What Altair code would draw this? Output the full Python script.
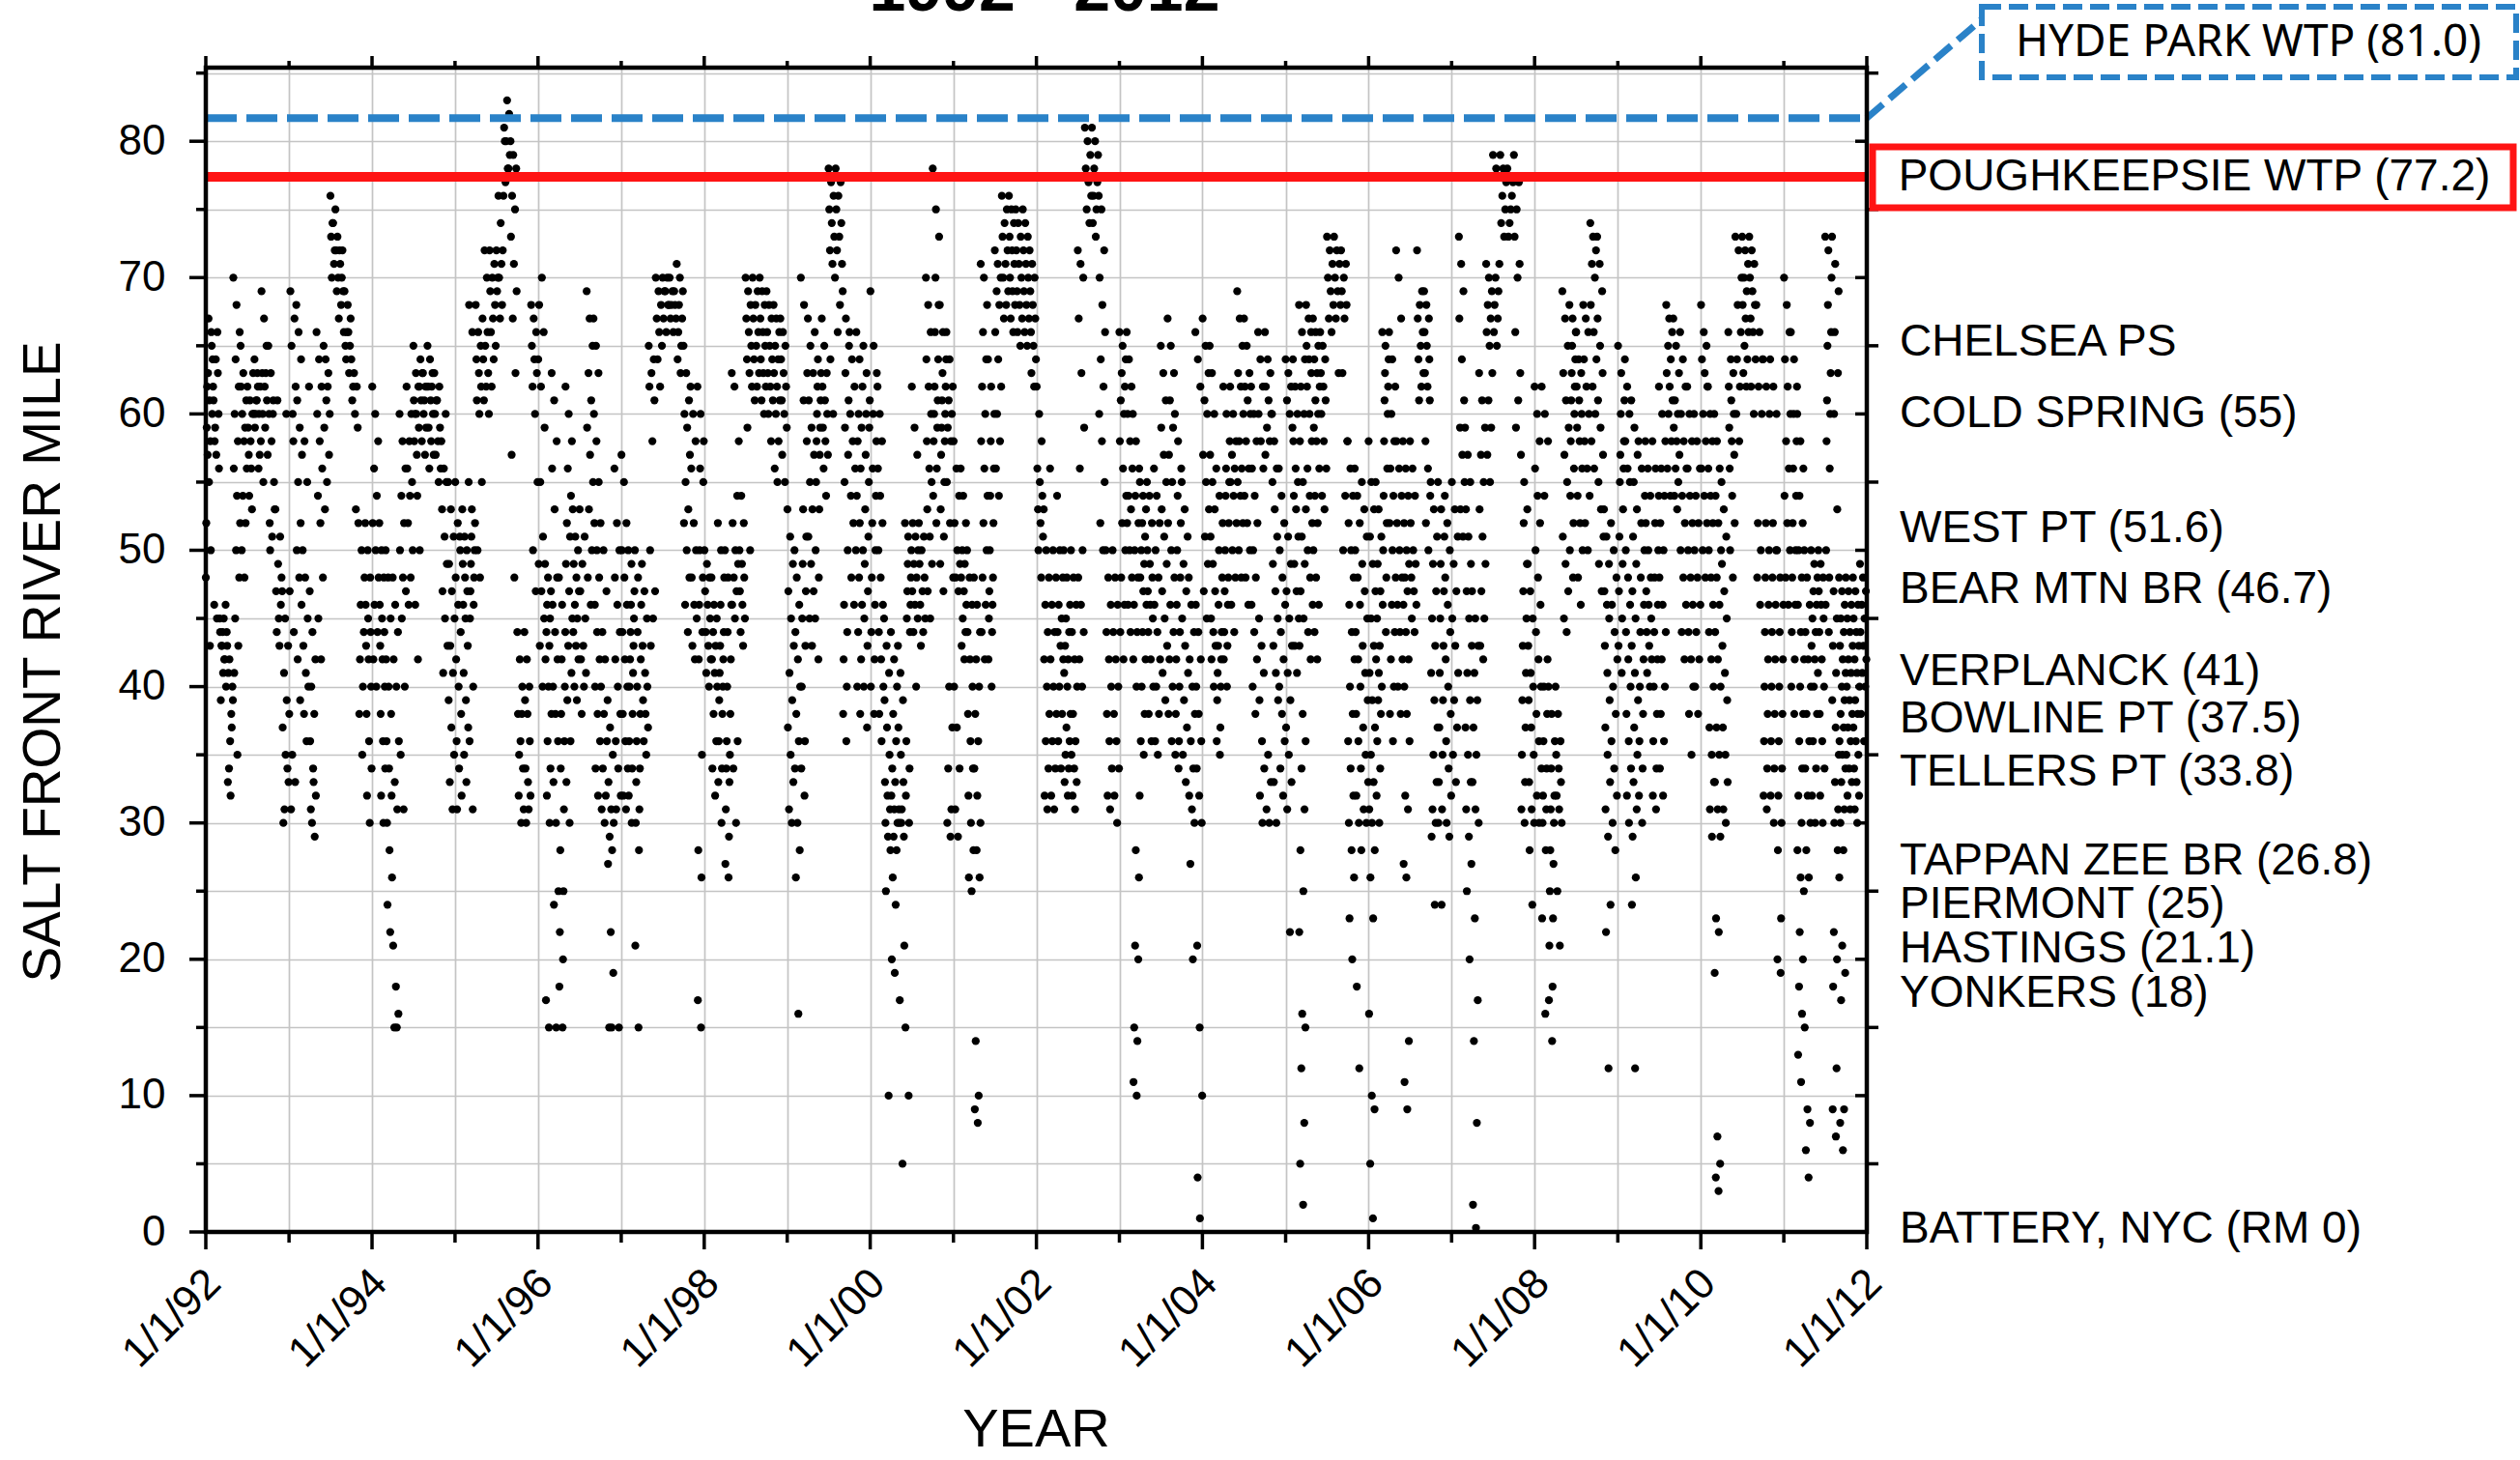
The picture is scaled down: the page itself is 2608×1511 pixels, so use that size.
import math
import calendar
import altair as alt
import pandas as pd

# ---------------- data: salt front river mile, values read per month ----------------
sf_1992 = [
    "48 55 60 63 66 62 58 52 61 64 67 65 57 50 59 43",
    "62 64 60 58 66 61 57 56 59 63 46 45",
    "45 44 46 43 42 44 41 40 43 42 39 45",
    "44 42 40 41 38 43 36 39 34 37 33 32",
    "70 68 66 64 62 60 58 56 54 52 50 48 45 43 41 35",
    "65 63 61 60 59 62 58 56 54 52 50 48",
    "62 61 60 59 58 63 57 56 60 54 53",
    "64 63 62 61 60 59 62 58 61 57 60 56",
    "69 67 65 63 62 61 60 59 57 55 63",
    "65 63 61 60 58 55 52 51 53 50 60",
    "53 51 49 47 46 45 44 48 43 61",
    "47 45 43 41 39 37 35 33 31 34 30 60",
]
sf_1993 = [
    "38 35 33 31 44 47 60 62 65 67 69 58",
    "68 66 64 61 59 57 55 52 50 48 46 42 39",
    "50 48 45 43 41 40 38 36 62 58 55",
    "47 44 42 40 38 36 34 32 30 29 31 33",
    "66 64 62 60 58 56 54 52 48 45 42",
    "65 63 61 59 57 55 53 60 62 64",
    "76 75 74 73 72 71 70 69 72 74",
    "73 72 71 70 69 68 67 66 70 72",
    "69 68 67 66 65 64 63 65 66",
    "64 63 62 61 60 59 62 53",
    "52 50 48 46 44 42 40 38 35",
    "52 50 48 46 45 44 43 42 40 38 36 34 32 30",
]
sf_1994 = [
    "62 60 58 56 54 52 50 48 46 44 42 40",
    "52 50 48 46 45 44 43 42 40 38 36 34 32 30",
    "50 48 45 42 40 38 36 34 32 30 28 26 24 22",
    "48 46 44 42 40 36 33 31 21 18 16 15 15",
    "60 58 56 54 52 50 48 47 45 40 35 31",
    "62 60 58 56 55 54 52 50 48 46",
    "65 63 62 61 60 59 58 57 62 60 54 50 46 42",
    "64 63 62 61 60 59 58 61 62 63 57",
    "65 64 63 62 61 60 59 58 57 56 62",
    "63 62 61 60 59 58 57 56 55 61",
    "58 56 55 53 51 49 47 45 43 41 60",
    "55 53 51 49 47 45 43 41 39 37 35 33 31",
]
sf_1995 = [
    "55 52 50 48 46 44 42 40 38 36 34 32 31 51",
    "53 51 50 49 48 47 46 45 43 41 39 37 35 33",
    "55 53 52 51 50 49 48 47 46 45 40 36 31 68 66",
    "68 66 65 64 63 62 61 60 55 50 48",
    "67 66 65 64 63 62 61 60 70 72",
    "72 71 70 69 68 67 66 65 64 62",
    "72 71 70 69 68 67 70 72 74 76",
    "76 78 80 81 82 83 80 79 78 77",
    "80 79 78 76 75 73 71 69 67 63 57 48",
    "44 42 40 38 36 34 32 30 31 35 38",
    "44 42 40 39 38 36 34 33 32 30 31",
    "68 67 66 65 64 63 62 60 55 50 47",
]
sf_1996 = [
    "64 62 66 68 70 59 55 51 49 47 45 43 40",
    "49 48 47 46 45 44 43 42 40 38 36 34 32 30 17 15",
    "63 61 58 56 53 48 46 44 42 40 38 36 33 30 25 24 15",
    "48 46 44 42 40 38 36 34 31 28 25 22 20 18 15",
    "62 60 58 56 54 52 51 49 47 45 43 41 39 36 33 30",
    "53 51 50 49 48 47 46 45 44 43 42 40 39",
    "53 51 49 47 45 43 42 41 40 38",
    "69 67 65 63 61 59 57 55 53 50 48 46",
    "67 65 63 60 58 55 52 50 48 46 44 42 40 38 36 34 32",
    "52 50 47 44 42 40 38 36 34 32 31 30",
    "39 37 35 33 31 30 29 28 27 22 19 15 15",
    "56 52 50 48 46 44 42 40 38 36 34 32 31 15",
]
sf_1997 = [
    "57 55 52 50 48 46 44 42 40 38 36 34 32 31",
    "50 49 47 46 45 44 43 42 41 40 38 36 34 32 30",
    "50 48 46 44 42 40 38 36 34 33 31 30 28 21 15",
    "49 47 45 43 41 40 39 38 37 36 35",
    "65 64 63 62 61 58 50 47 45 43",
    "70 69 68 67 66 65 64 62",
    "70 69 68 67 66 68 69 70",
    "70 69 68 67 66 67 68 69",
    "71 70 69 68 67 66 65 64 63",
    "65 63 61 60 59 57 55 53 52 50 48 46 44",
    "62 60 58 56 52 50 48 46 45 43 42",
    "62 60 58 56 55 50 48 46 44 42 35 28 26 17 15",
]
sf_1998 = [
    "50 49 48 47 46 45 44 43 42 41 40",
    "48 46 45 44 43 42 41 40 38 36 34 32",
    "52 50 48 46 44 43 42 41 40 39 38 36 34 33 30",
    "50 48 46 44 42 40 38 36 35 34 33 31 29 27 26",
    "63 62 54 52 50 49 48 47 46 45 36 34 30",
    "58 54 52 50 49 48 47 46 45 44 43",
    "70 69 68 67 66 65 64 63 62 59 50",
    "70 69 68 67 66 65 64 63 62 61",
    "70 69 68 67 66 65 64 63 62 61 60",
    "69 68 67 66 65 64 63 62 61 60 58",
    "68 67 66 65 64 63 62 61 60 58 56 55",
    "67 66 65 64 63 62 61 60 59 57 55",
]
sf_1999 = [
    "53 51 49 47 45 43 41 39 37 35 33 31 30",
    "50 48 46 44 42 40 38 36 34 30 28 26 16",
    "70 68 63 61 58 53 51 49 47 45 43 40 36 34 32",
    "67 65 63 61 59 57 55 53 51 49 47 45 43",
    "66 64 63 62 61 60 59 58 57 55 53 50 48 45 42",
    "67 65 63 62 61 60 59 58 57 56 54",
    "78 77 76 75 74 73 72 71 70 64 60",
    "78 77 76 75 74 73 72 71 68 66",
    "69 67 65 63 61 59 57 55 50 46 44 42 40 38 36",
    "66 64 62 60 58 56 54 52 50 48 46",
    "66 64 62 60 59 58 56 54 52 50 48 46 44 42 40 38",
    "65 63 61 60 59 57 55 53 51 49 47 45 43 40 37",
]
sf_2000 = [
    "69 65 63 60 58 56 54 52 50 48 46 44 42 40 38",
    "62 60 58 56 54 52 50 48 46 44 42 40 38 36",
    "45 43 41 39 37 35 33 32 31 30 29 28 25 10",
    "44 42 40 38 36 34 33 32 31 30 29 28 26 24 20 19",
    "43 41 39 37 35 33 31 30 29 30 31 21 17 5",
    "52 51 50 49 48 47 46 45 44 36 34 32 30 15 10",
    "62 59 57 52 51 50 49 48 47 46 45 44 40",
    "52 51 50 49 48 47 46 45 44 43",
    "70 68 66 64 62 60 58 56 55 53 51 49 47 45",
    "78 75 73 70 68 66 64 62 61 60 59 58 56 54 52",
    "68 66 64 63 62 61 60 59 58 57 55 53 51 49 47",
    "66 64 62 61 60 59 58 55 52 48 40 37 34 31 30 29",
]
sf_2001 = [
    "58 56 54 52 50 49 48 47 40 37 34 31 29",
    "56 54 52 50 49 48 47 46 45 44 43 42",
    "50 48 46 44 42 40 38 36 34 32 30 28 26 25",
    "48 46 44 42 40 38 36 34 32 30 28 26 14 10 9 8",
    "71 70 68 66 64 62 60 58 56 54 52 50 48 46 44 42",
    "64 62 60 58 56 54 52 50 48 47 46 45 44 42 40",
    "72 71 70 69 68 66 64 62 60 58 56 54",
    "76 75 74 73 72 71 70 69 68 67",
    "76 75 74 73 72 71 70 69 68 67 66",
    "75 74 73 72 71 70 69 68 67 66 65",
    "75 74 73 72 71 70 69 68 67 66 65",
    "72 71 70 69 68 67 66 65 64 63 62",
]
sf_2002 = [
    "62 60 58 56 55 54 53 52 51 50 48",
    "53 50 48 46 44 42 40 38 36 34 32 31",
    "56 50 48 46 44 42 40 38 36 34 32 31",
    "54 50 48 46 45 44 43 42 40 38 36 34",
    "50 48 46 45 44 43 42 41 40 38 37 36 35 34 33 32",
    "50 48 46 44 42 40 38 36 35 34 33 32 31",
    "72 71 70 67 63 59 56 50 48 46 44 42 40",
    "81 80 79 78 77 76 75 74",
    "81 80 79 78 77 76 75 74 73",
    "76 75 72 70 68 66 64 62 60 58 55 52 50",
    "50 48 46 44 42 40 38 36 34 32 31",
    "50 48 46 44 42 40 38 36 34 32 30",
]
sf_2003 = [
    "66 65 64 63 62 61 60 58 56 54 52 50 48 46 44 42",
    "66 64 62 60 58 56 54 53 52 50 48 46 44",
    "60 58 56 54 52 50 48 46 44 42 40 32 28 26 21 20 15 14 11 10",
    "55 54 53 52 51 50 49 48 47 46 44 42 40 38 36 35",
    "55 54 52 50 49 48 47 46 45 44 42 40 38 36",
    "56 54 52 50 48 46 44 42 40 38 36 35",
    "65 63 61 59 57 55 53 51 49 47 45 43 41 39",
    "67 65 63 61 59 57 55 52 50 48 46 44 42 40 38 36",
    "60 58 56 54 52 50 48 46 44 42 40 38 36 35 34",
    "55 53 51 49 47 45 43 41 39 37 35 33",
    "48 46 44 42 40 38 36 34 32 31 30 27 20",
    "66 64 62 46 44 42 40 38 36 34 32 30 21 15 10 4 1",
]
sf_2004 = [
    "67 65 63 61 60 57 55 53 51 49 47 45",
    "65 63 60 57 55 53 51 49 47 45 44 43 42 40",
    "56 54 52 50 48 46 44 43 42 41 40 39 37 36 35",
    "62 60 58 56 55 54 52 50 48 47 46 44 43 42 40",
    "62 60 58 57 56 55 54 52 50 48 46 44",
    "69 67 65 63 62 60 58 56 55 54 52 50 48",
    "67 65 63 62 61 60 58 56 54 52 50 48 46",
    "62 60 58 56 54 52 50 48 46 44 42 40 38",
    "66 64 62 60 58 56 45 43 41 39 36 34 32 30",
    "66 64 63 62 61 60 59 58 57 35 33 31 30",
    "60 58 56 55 53 51 49 47 45 43 41 39 33 30",
    "56 54 52 50 48 46 44 42 40 38 36 34 32",
]
sf_2005 = [
    "64 63 62 61 60 59 51 49 47 45 43 41 39 37 35 33 31 22",
    "64 62 60 58 56 55 54 53 51 49 47 45 43 41",
    "68 66 64 62 60 58 55 53 51 49 47 45 43 38 36 34 31 28 25 22 16 15 12 8 5 2",
    "68 67 66 65 64 63 62 60 58 56 54 52 50 48 46 44 42",
    "67 66 65 64 63 62 61 60 59 58 56 54 52 50 48 46 44 42",
    "66 65 64 63 62 61 60 58 56 54 53",
    "73 72 71 70 69 68 67 66",
    "73 72 71 70 69 68 67 63",
    "72 71 70 69 68 67 63 58 54 50",
    "58 56 54 52 50 48 46 44 42 40 38 36 34 32 30 28 26 23 20",
    "56 54 52 50 48 46 44 42 40 38 36 34 32 30 28 18 12",
    "55 53 51 49 47 45 43 41 39 37 35 33 31 30",
]
sf_2006 = [
    "58 55 53 51 49 47 45 43 41 39 37 35 33 31 30 28 26 23 16 10 9 5 1",
    "55 53 51 49 47 45 43 42 41 40 39 38 36 34 32 30",
    "66 65 64 63 62 61 60 58 56 54 52 50 48 46 44",
    "66 64 62 60 58 56 54 52 50 48 46 44 42 40 38 36",
    "72 70 67 58 56 54 52 50 48 46 44 42 40 38",
    "58 56 54 52 50 49 48 47 46 44 42 40 38 36 32 31 27 26 14 11 9",
    "58 56 54 52 50 49 48 47 46 45 44",
    "72 69 68 67 66 65 64 63 62 61",
    "69 68 67 66 65 64 63 62 61 58 56 54 52 50",
    "55 53 51 49 47 45 43 41 39 37 35 33 31 30 29 24",
    "55 53 51 49 47 45 43 41 39 37 35 33 31 30 24",
    "54 52 50 48 46 44 42 40 38 36 34 32 30 29",
]
sf_2007 = [
    "55 53 51 49 47 45 43 41 39 37 35 33",
    "73 71 69 67 64 61 59 57 55 53 51",
    "59 57 55 53 51 49 47 45 43 41 39 37 35 33 31 29 27 25 20",
    "47 45 43 41 39 37 35 33 31 30 23 17 14 8 2 0.3",
    "63 61 59 57 55 53 51 49 47 45 43 42",
    "71 70 69 68 67 66 65 63 61 59 57 55",
    "79 78 71 70 69 68 67 66 65",
    "79 78 77 76 75 74 73",
    "78 77 76 75 74 73",
    "79 77 75 73 71 70 66 63 61 59",
    "57 55 53 52 49 47 45 43 41 39 37 35 33 31 30",
    "49 47 45 43 41 40 39 37 35 33 31 30 28 24",
]
sf_2008 = [
    "62 60 58 56 54 52 50 48 46 44 42 40 38 36 34 32 30",
    "62 60 58 54 42 40 38 36 34 32 31 30 28 23 16",
    "40 38 36 34 32 31 30 28 27 25 23 21 18 17 14",
    "40 38 36 35 34 33 32 31 30 25 21",
    "69 67 65 63 61 59 57 55 51 49 47 45 44",
    "68 67 66 65 64 63 62 61 60 58 56 54 52 50 48",
    "66 64 63 62 61 60 59 58 56 54 52 50 48 46",
    "68 67 66 64 62 60 58 56 54 52 50",
    "74 73 72 71 70 68 66 64 62 60 58 56",
    "73 71 69 67 65 63 61 59 57 55 53 51 49 47",
    "53 51 49 47 46 45 43 41 39 37 35 33 31 29 24 22 12",
    "52 50 48 46 44 42 40 38 36 34 32 30 28",
]
sf_2009 = [
    "65 63 61 60 58 57 56 55 53 51 49 47 45 43 41",
    "64 62 60 58 56 55 50 48 46 44 42 40 38 36 34 32 30",
    "61 59 57 55 53 51 49 47 45 43 41 39 37 35 33 31 29 26 24 12",
    "58 56 54 52 50 48 46 44 42 40 38 36 34 32 30",
    "58 56 54 52 50 48 47 46 45 44 43 42 41 40",
    "58 56 54 52 50 48 46 44 42 40 38 36 34 32 31",
    "62 60 58 56 54 52 50 48 46 44 42 40 38 36 34 32",
    "68 67 66 65 64 63 62 61 60 58 56 54",
    "67 65 63 61 60 59 58 57 56 55 54 53",
    "66 64 62 60 58 56 54 52 50 48 46 44 42",
    "62 60 58 56 54 52 50 48 46 44 42 40 38 35",
    "60 58 56 54 52 50 48 46 44 42 40 38",
]
sf_2010 = [
    "68 66 65 64 63 62 60 58 56 54 52 50 48",
    "62 60 58 56 54 52 50 48 46 44 42 40 37 35 33 31 29",
    "60 58 56 54 52 50 48 46 44 42 40 37 35 33 31 29 23 22 19 7 5 4 3",
    "55 53 51 49 47 45 43 41 39 37 35 33 31 30",
    "66 64 63 62 61 60 59 58 57 56 54 52 50 48",
    "73 72 70 68 66 64 62 60 58",
    "73 72 71 70 69 68 67 66 65 64 63 62",
    "73 72 71 70 69 68 67 66 64 62 60",
    "68 66 64 62 60 52 50 48 46",
    "64 62 60 52 50 48 46 44 42 40 38 36 34 32 31",
    "64 62 60 52 50 48 46 44 42 40 38 36 34 32 30",
    "50 48 46 44 42 40 38 36 34 32 30 28 23 20 19",
]
sf_2011 = [
    "70 68 66 64 62 60 58 56 54 52 50 48 46",
    "66 64 62 60 58 56 54 52 50 48 46 44 42 40 38",
    "60 58 56 54 52 50 48 46 44 42 40 38 36 34 32 30 28 26 25 22 20 18 16 13 11",
    "50 48 46 44 42 40 38 36 34 32 30 28 26 15 9 8 6 4",
    "50 49 48 47 46 45 44 43 42 41 40 38 36 34 32 30",
    "50 49 48 47 46 45 44 42 40 38 36 34 32 30",
    "73 72 70 68 66 65 63 61 60 58 56 50 48 46 44",
    "73 71 69 66 63 60 53 47 45 43 41 39 37 35 33 31 30 28 22 20 18 12 9 7",
    "48 47 46 45 44 43 42 41 40 39 38 37 36 35 34 33 31 30 28 26 21 19 17 9 8 6",
    "48 47 46 45 44 43 42 41 40 39 38 37 36 35 34 33 32 31",
    "48 47 46 45 44 43 42 41 40 39 38 37 36 35 34 33 32 31 30",
    "49 48 47 46 45 44 43 42 41 40 38 36",
]

years = list(range(1992, 2012))
series = [sf_1992, sf_1993, sf_1994, sf_1995, sf_1996, sf_1997, sf_1998, sf_1999,
          sf_2000, sf_2001, sf_2002, sf_2003, sf_2004, sf_2005, sf_2006, sf_2007,
          sf_2008, sf_2009, sf_2010, sf_2011]

# reference lines (drawn position) and their labels
hyde_mile = 81.7
hyde_label = "HYDE PARK WTP (81.0)"
pough_mile = 77.4
pough_label = "POUGHKEEPSIE WTP (77.2)"

# river landmarks on the right
site_labels = ["CHELSEA PS", "COLD SPRING (55)", "WEST PT (51.6)", "BEAR MTN BR (46.7)",
               "VERPLANCK (41)", "BOWLINE PT (37.5)", "TELLERS PT (33.8)",
               "TAPPAN ZEE BR (26.8)", "PIERMONT (25)", "HASTINGS (21.1)",
               "YONKERS (18)", "BATTERY, NYC (RM 0)"]
site_label_mile = [65.3, 60.0, 51.6, 47.1, 41.1, 37.6, 33.7, 27.2, 24.0, 20.8, 17.5, 0.2]

title_text = "1992 - 2012"
y_title = "SALT FRONT RIVER MILE"
x_title = "YEAR"

y_major = [0, 10, 20, 30, 40, 50, 60, 70, 80]
y_minor = [5, 15, 25, 35, 45, 55, 65, 75, 85]
tick_years = list(range(1992, 2013))

# ---------------- build point table ----------------
def _stride(n):
    s = max(1, round(n * 0.382))
    while math.gcd(s, n) != 1:
        s += 1
    return s

rows = []
for yr, months in zip(years, series):
    for mi, s in enumerate(months):
        vals = [float(v) for v in s.split()]
        n = len(vals)
        nd = calendar.monthrange(yr, mi + 1)[1]
        st = _stride(n)
        for i, v in enumerate(vals):
            pos = (i * st) % n
            day = 1 + int((pos + 0.5) * nd / n)
            rows.append({"date": f"{yr}-{mi + 1:02d}-{day:02d}", "mile": v})
pts = pd.DataFrame(rows)

# ---------------- layout ----------------
W, H = 1719, 1205
YMAX = 85.4
FONT = "Liberation Sans"
BLUE = "#2a82c8"
RED = "#ff1414"

xscale = alt.Scale(type="utc", nice=False,
                   domain=[alt.DateTime(year=1992, month=1, date=1, utc=True),
                           alt.DateTime(year=2012, month=1, date=1, utc=True)])
yscale = alt.Scale(domain=[0, YMAX], nice=False, zero=False)

x_axis = alt.Axis(
    values=[alt.DateTime(year=y, month=1, date=1, utc=True) for y in tick_years],
    labelExpr="utcyear(datum.value) % 2 === 0 ? utcFormat(datum.value, '%-m/%-d/%y') : ''",
    labelAngle=315, labelAlign="right", labelBaseline="middle",
    labelPadding=46, labelOffset=8, labelFont=FONT, labelFontSize=44, labelColor="black",
    labelOverlap=False, labelFlush=False, labelBound=False,
    ticks=False, domain=False, grid=True, gridColor="#c4c4c4", gridWidth=1.7, title=None,
)
y_axis = alt.Axis(
    values=list(range(0, 86, 5)),
    labelExpr="datum.value % 10 === 0 ? datum.label : ''",
    labelPadding=42, labelFont=FONT, labelFontSize=44, labelColor="black",
    labelOverlap=False, labelFlush=False, labelBound=False,
    ticks=False, domain=False, grid=True, gridColor="#c4c4c4", gridWidth=1.7, title=None,
)

points = alt.Chart(pts).mark_circle(size=68, color="black", opacity=1).encode(
    x=alt.X("date:T", scale=xscale, axis=x_axis),
    y=alt.Y("mile:Q", scale=yscale, axis=y_axis),
)

def yrule(vals, x1, x2, width=3.5):
    return alt.Chart(pd.DataFrame({"mile": vals})).mark_rule(color="black", strokeWidth=width).encode(
        y=alt.Y("mile:Q", scale=yscale), x=alt.value(x1), x2=alt.value(x2))

def xrule(yrs, y1, y2, width=3.5):
    d = pd.DataFrame({"date": [f"{y}-01-01" for y in yrs]})
    return alt.Chart(d).mark_rule(color="black", strokeWidth=width).encode(
        x=alt.X("date:T", scale=xscale), y=alt.value(y1), y2=alt.value(y2))

even_years = [y for y in tick_years if y % 2 == 0]
odd_years = [y for y in tick_years if y % 2 == 1]

ticks = [
    yrule(y_major, -17, 0), yrule(y_minor, -10, 0),
    yrule(y_minor, W, W + 12), yrule(y_major[1:], W - 12, W),
    xrule(even_years, H, H + 18), xrule(odd_years, H, H + 11),
    xrule(even_years, -12, 0), xrule(odd_years, -7, 0),
]

one = pd.DataFrame({"k": [0]})

frame = alt.Chart(one).mark_rect(fillOpacity=0, stroke="black", strokeWidth=4.5).encode(
    x=alt.value(0), x2=alt.value(W), y=alt.value(0), y2=alt.value(H))

hyde_df = pd.DataFrame({"mile": [hyde_mile]})
hyde_line = alt.Chart(hyde_df).mark_rule(color=BLUE, strokeWidth=8, strokeDash=[32, 10]).encode(
    y=alt.Y("mile:Q", scale=yscale), x=alt.value(0), x2=alt.value(W))
hyde_lead = alt.Chart(hyde_df).mark_rule(color=BLUE, strokeWidth=7, strokeDash=[22, 9]).encode(
    y=alt.Y("mile:Q", scale=yscale), x=alt.value(W), x2=alt.value(1838), y2=alt.value(-50))
hyde_box = alt.Chart(one).mark_rect(fillOpacity=0, stroke=BLUE, strokeWidth=6, strokeDash=[20, 8]).encode(
    x=alt.value(1838), x2=alt.value(2391), y=alt.value(-63), y2=alt.value(10))
hyde_txt = alt.Chart(pd.DataFrame({"t": [hyde_label]})).mark_text(
    font="Noto Sans", fontSize=46, color="black", align="center", baseline="middle").encode(
    text="t:N", x=alt.value(2114), y=alt.value(-26))

pough_df = pd.DataFrame({"mile": [pough_mile]})
pough_line = alt.Chart(pough_df).mark_rule(color=RED, strokeWidth=10).encode(
    y=alt.Y("mile:Q", scale=yscale), x=alt.value(0), x2=alt.value(W))
pough_box = alt.Chart(one).mark_rect(fillOpacity=0, stroke=RED, strokeWidth=7).encode(
    x=alt.value(1725), x2=alt.value(2388), y=alt.value(82), y2=alt.value(145))
pough_txt = alt.Chart(pd.DataFrame({"t": [pough_label]})).mark_text(
    font=FONT, fontSize=46, color="black", align="center", baseline="middle").encode(
    text="t:N", x=alt.value(2058), y=alt.value(113))

sites = alt.Chart(pd.DataFrame({"mile": site_label_mile, "t": site_labels})).mark_text(
    font=FONT, fontSize=46, color="black", align="left", baseline="middle").encode(
    text="t:N", x=alt.value(W + 34), y=alt.Y("mile:Q", scale=yscale))

ytitle = alt.Chart(pd.DataFrame({"t": [y_title]})).mark_text(
    font=FONT, fontSize=55, color="black", align="center", baseline="middle", angle=270).encode(
    text="t:N", x=alt.value(-168), y=alt.value(615))
xtitle = alt.Chart(pd.DataFrame({"t": [x_title]})).mark_text(
    font=FONT, fontSize=56, color="black", align="center", baseline="middle").encode(
    text="t:N", x=alt.value(W / 2), y=alt.value(1410))
toptitle = alt.Chart(pd.DataFrame({"t": [title_text]})).mark_text(
    font=FONT, fontSize=68, fontWeight="bold", color="black", align="center",
    baseline="alphabetic").encode(text="t:N", x=alt.value(868), y=alt.value(-59))

chart = alt.layer(
    points, *ticks, pough_line, hyde_line, hyde_lead, frame, hyde_box, hyde_txt,
    pough_box, pough_txt, sites, ytitle, xtitle, toptitle
).properties(
    width=W, height=H,
    autosize=alt.AutoSizeParams(type="none"),
    padding={"left": 213, "top": 70, "right": 676, "bottom": 236},
).configure_view(stroke=None)

chart.save("out.html", embed_options={"renderer": "svg", "actions": False})
